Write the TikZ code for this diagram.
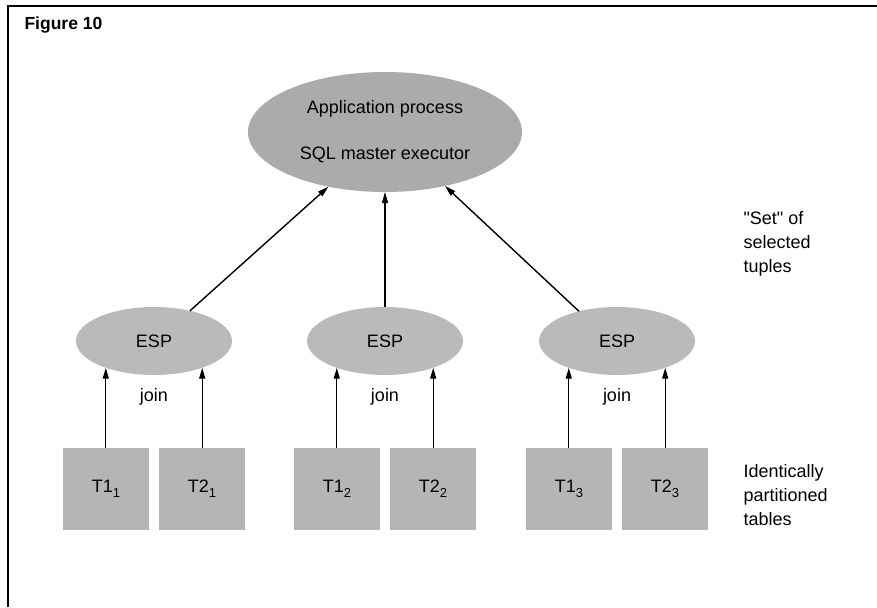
\documentclass[tikz,border=0pt]{standalone}
\usepackage{fontspec}
\setmainfont{Liberation Sans}[Ligatures=TeXOff]
\usetikzlibrary{shapes.geometric,arrows.meta}
\newcommand\tsub[1]{\raisebox{-5pt}{\fontsize{13}{13}\selectfont #1}}
\begin{document}
\begin{tikzpicture}[x=1pt,y=-1pt,
  lab/.style={font=\fontsize{18}{24}\selectfont},
  bigell/.style={ellipse,fill=black!33,minimum width=274pt,minimum height=120pt,inner sep=0pt,outer sep=0pt,align=center,font=\fontsize{18}{46}\selectfont},
  espell/.style={ellipse,fill=black!27,minimum width=156pt,minimum height=68pt,inner sep=0pt,outer sep=0pt,font=\fontsize{18}{22}\selectfont},
  tbl/.style={rectangle,fill=black!29,minimum width=86pt,minimum height=82pt,inner sep=0pt,outer sep=0pt,font=\fontsize{18}{22}\selectfont},
  arr/.style={line width=1.4pt,-{Triangle[length=11pt,width=6pt]}},
  side/.style={lab,align=left,anchor=west}
]
\useasboundingbox (0,0) rectangle (877,607);
\draw[line width=1.5pt] (8,607) -- (8,6) -- (877,6);
\node[anchor=west,font=\bfseries\fontsize{17.5}{20}\selectfont] (fig) at (21,25) {Figure 10};

\node[bigell] (top) at (385,132) {Application process\\SQL master executor};

\node[espell] (espL) at (154,341) {ESP};
\node[espell] (espM) at (385,341) {ESP};
\node[espell] (espR) at (617,341) {ESP};

\node[lab] (jL) at (154,397) {join};
\node[lab] (jM) at (385,397) {join};
\node[lab] (jR) at (617,397) {join};

\node[tbl] (b1) at (106,489) {T1\tsub{1}};
\node[tbl] (b2) at (202,489) {T2\tsub{1}};
\node[tbl] (b3) at (337,489) {T1\tsub{2}};
\node[tbl] (b4) at (433,489) {T2\tsub{2}};
\node[tbl] (b5) at (569,489) {T1\tsub{3}};
\node[tbl] (b6) at (665,489) {T2\tsub{3}};

\draw[arr] (espL.209 |- b1.north) -- (espL.209);
\draw[arr] (espL.331 |- b2.north) -- (espL.331);
\draw[arr] (espM.209 |- b3.north) -- (espM.209);
\draw[arr] (espM.331 |- b4.north) -- (espM.331);
\draw[arr] (espR.209 |- b5.north) -- (espR.209);
\draw[arr] (espR.331 |- b6.north) -- (espR.331);

\draw[arr] (espL.40) -- (top.224);
\draw[arr] (espM.north) -- (top.south);
\draw[arr] (espR.142) -- (top.318);

\node[side] (settxt) at (740,244) {"Set" of\\selected\\tuples};
\node[side] (idtxt) at (740,495) {Identically\\partitioned\\tables};
\end{tikzpicture}
\end{document}
